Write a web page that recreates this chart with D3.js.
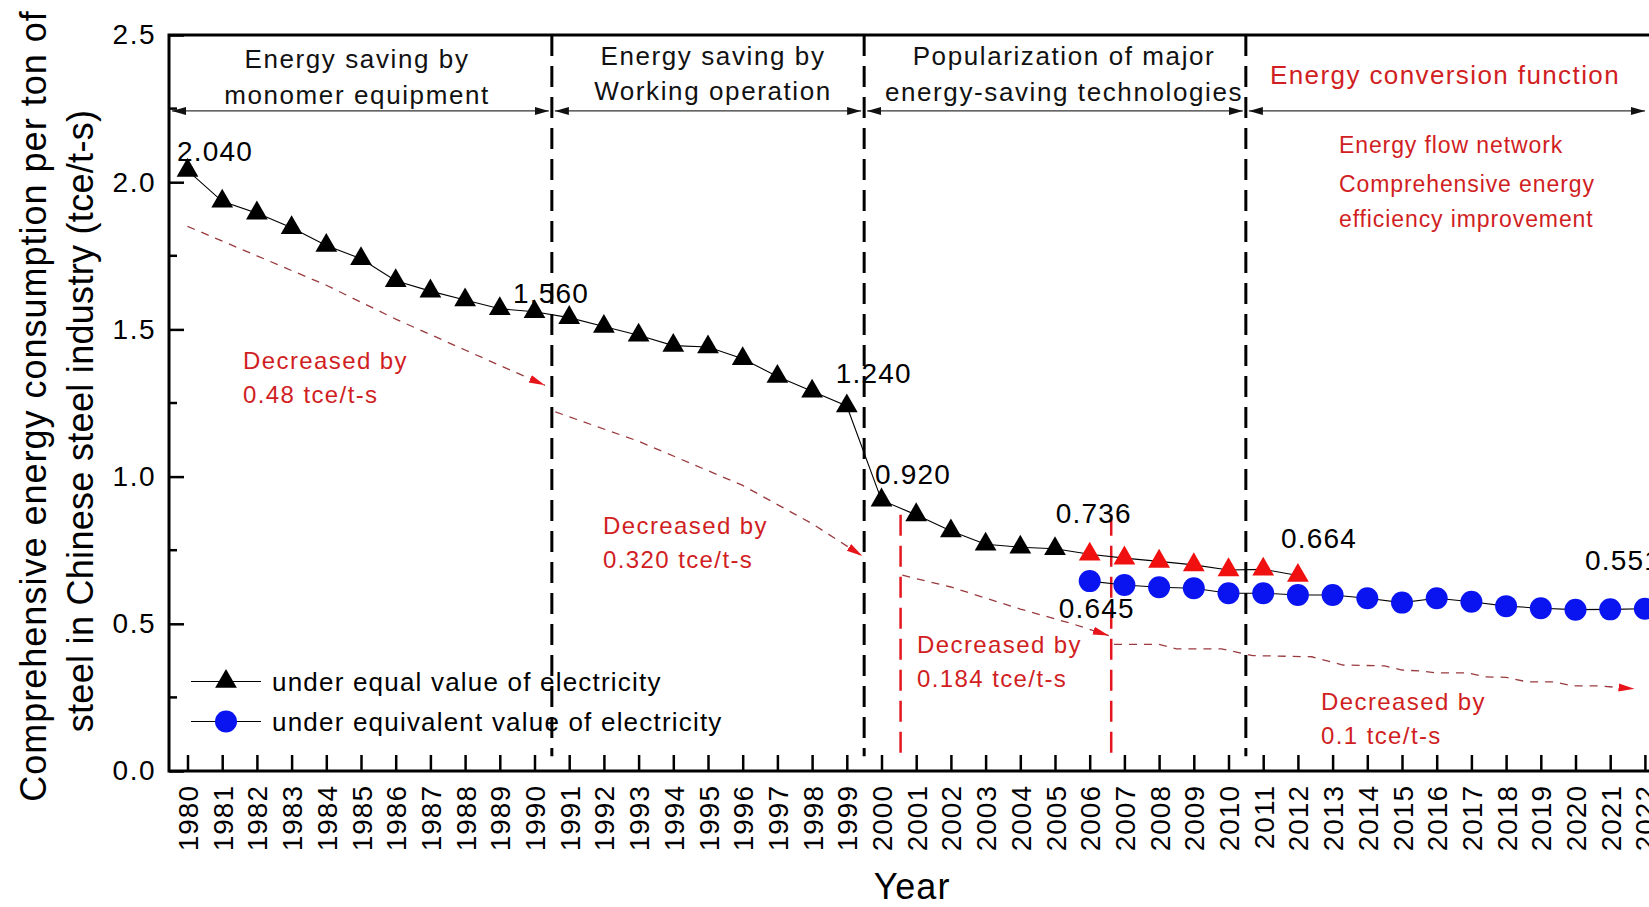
<!DOCTYPE html>
<html lang="en">
<head>
<meta charset="UTF-8" />
<title>Energy consumption per ton of steel</title>
<script src="https://cdn.jsdelivr.net/npm/d3@7"></script>
<style>
  body { margin: 0; background: #fff; }
  svg text { font-family: "Liberation Sans", Arial, sans-serif; }
</style>
</head>
<body>
<svg id="chart" width="1649" height="907"></svg>
<script>
// under equal value of electricity, black part
const equalYears = [1980, 1981, 1982, 1983, 1984, 1985, 1986, 1987, 1988, 1989, 1990,
  1991, 1992, 1993, 1994, 1995, 1996, 1997, 1998, 1999, 2000, 2001, 2002, 2003, 2004, 2005];
const equalValues = [2.040, 1.935, 1.895, 1.845, 1.785, 1.740, 1.665, 1.630, 1.600, 1.570, 1.560,
  1.540, 1.510, 1.480, 1.445, 1.440, 1.400, 1.340, 1.290, 1.240, 0.920, 0.870, 0.815, 0.770, 0.760, 0.755];
// under equal value of electricity, red part
const equalRedYears = [2006, 2007, 2008, 2009, 2010, 2011, 2012];
const equalRedValues = [0.736, 0.723, 0.712, 0.700, 0.683, 0.685, 0.664];
// under equivalent value of electricity
const equivYears = [2006, 2007, 2008, 2009, 2010, 2011, 2012, 2013, 2014,
  2015, 2016, 2017, 2018, 2019, 2020, 2021, 2022];
const equivValues = [0.645, 0.632, 0.624, 0.621, 0.604, 0.604, 0.598, 0.598, 0.587,
  0.572, 0.587, 0.575, 0.560, 0.553, 0.548, 0.549, 0.551];

const tickYears = d3.range(1980, 2023);
const yTicks = [0, 0.5, 1.0, 1.5, 2.0, 2.5];
const yMinorTicks = [0.25, 0.75, 1.25, 1.75, 2.25];

const phaseBounds = [1990.5, 1999.5, 2010.5];
const redBounds = [2000.55, 2006.62];

const phaseNames = [
  ["Energy saving by", "monomer equipment"],
  ["Energy saving by", "Working operation"],
  ["Popularization of major", "energy-saving technologies"]
];
const phase4Name = "Energy conversion function";
const phase4Notes = ["Energy flow network", "Comprehensive energy", "efficiency improvement"];

const valueLabels = [
  { year: 1980, value: 2.040, text: "2.040" },
  { year: 1990, value: 1.560, text: "1.560" },
  { year: 1999, value: 1.240, text: "1.240" },
  { year: 2000, value: 0.920, text: "0.920" },
  { year: 2006, value: 0.736, text: "0.736" },
  { year: 2006, value: 0.645, text: "0.645" },
  { year: 2012, value: 0.664, text: "0.664" },
  { year: 2022, value: 0.551, text: "0.551" }
];

// dashed red trend arrows
const trend1 = [[1980, 1.85], [1982, 1.75], [1984, 1.65], [1986, 1.535], [1988, 1.43], [1990.3, 1.31]];
const trend2 = [[1990.6, 1.22], [1993, 1.12], [1996, 0.97], [1998, 0.84], [1999.45, 0.73]];
const trend3 = [[2000.6, 0.665], [2002, 0.625], [2004, 0.55], [2005.5, 0.50], [2006.55, 0.46]];
const trend4 = [[2006.7, 0.430], [2008.0, 0.430], [2008.5, 0.415], [2009.8, 0.415], [2010.7, 0.392],
  [2012.4, 0.388], [2013.3, 0.360], [2014.5, 0.357], [2015.0, 0.343], [2015.5, 0.340],
  [2016.0, 0.333], [2016.9, 0.333], [2017.4, 0.320], [2018.0, 0.318], [2018.6, 0.303],
  [2019.4, 0.303], [2019.9, 0.289], [2020.7, 0.289], [2021.7, 0.279]];
const trendTexts = [
  ["Decreased by", "0.48 tce/t-s"],
  ["Decreased by", "0.320 tce/t-s"],
  ["Decreased by", "0.184 tce/t-s"],
  ["Decreased by", "0.1 tce/t-s"]
];

const legendNames = ["under equal value of electricity", "under equivalent value of electricity"];

// ---------------------------------------------------------------
const svg = d3.select("#chart");
const plotLeft = 169, plotRight = 1680;

const x = d3.scaleLinear().domain([1980, 2022]).range([187.5, 1644.9]);
const y = d3.scaleLinear().domain([0, 2.5]).range([771, 35]);

const RED_TXT = "#d01e23";

const defs = svg.append("defs");
defs.append("marker").attr("id", "arrBlack")
  .attr("viewBox", "0 0 14 10").attr("refX", 14).attr("refY", 5)
  .attr("markerWidth", 14).attr("markerHeight", 10)
  .attr("markerUnits", "userSpaceOnUse").attr("orient", "auto-start-reverse")
  .append("path").attr("d", "M0,1 L14,5 L0,9 Z").attr("fill", "#111");
defs.append("marker").attr("id", "arrRed")
  .attr("viewBox", "0 0 16 10").attr("refX", 16).attr("refY", 5)
  .attr("markerWidth", 16).attr("markerHeight", 10)
  .attr("markerUnits", "userSpaceOnUse").attr("orient", "auto")
  .append("path").attr("d", "M0,1 L16,5 L0,9 Z").attr("fill", "#e8141c");

// axes
const xAxis = d3.axisBottom(x).tickValues(tickYears).tickSize(-16).tickSizeOuter(0).tickFormat(d3.format("d"));
const gx = svg.append("g").attr("transform", `translate(0,${y(0)})`).call(xAxis);
gx.select(".domain").remove();
gx.selectAll(".tick line").attr("stroke", "#000").attr("stroke-width", 2.5);
gx.selectAll(".tick text")
  .attr("transform", "rotate(-90)")
  .attr("text-anchor", "end")
  .attr("x", -14).attr("y", 0).attr("dy", "0.36em")
  .attr("font-size", 28).attr("letter-spacing", 1).attr("fill", "#000");

const yAxis = d3.axisLeft(y).tickValues(yTicks).tickSize(-15).tickSizeOuter(0).tickFormat(d3.format(".1f"));
const gy = svg.append("g").attr("transform", `translate(${plotLeft},0)`).call(yAxis);
gy.select(".domain").remove();
gy.selectAll(".tick line").attr("stroke", "#000").attr("stroke-width", 2.5);
gy.selectAll(".tick text").attr("x", -13).attr("font-size", 28).attr("letter-spacing", 1.5).attr("fill", "#000");

svg.append("g").selectAll("line").data(yMinorTicks).join("line")
  .attr("x1", plotLeft).attr("x2", plotLeft + 8)
  .attr("y1", d => y(d)).attr("y2", d => y(d))
  .attr("stroke", "#000").attr("stroke-width", 2.5);

// frame
svg.append("path")
  .attr("d", `M${plotRight},${y(2.5)} H${plotLeft} V${y(0)} H${plotRight}`)
  .attr("fill", "none").attr("stroke", "#000").attr("stroke-width", 3);

// axis titles
const yTitle = svg.append("g");
yTitle.append("text").attr("transform", "translate(46,406) rotate(-90)")
  .attr("text-anchor", "middle").attr("font-size", 36).attr("letter-spacing", 1)
  .text("Comprehensive energy consumption per ton of");
yTitle.append("text").attr("transform", "translate(93,421) rotate(-90)")
  .attr("text-anchor", "middle").attr("font-size", 36).attr("letter-spacing", 0.3)
  .text("steel in Chinese steel industry (tce/t-s)");
svg.append("text").attr("x", 912).attr("y", 899).attr("text-anchor", "middle")
  .attr("font-size", 36).attr("letter-spacing", 1).text("Year");

// phase separators
svg.append("g").selectAll("line").data(phaseBounds).join("line")
  .attr("x1", d => x(d)).attr("x2", d => x(d))
  .attr("y1", y(2.5)).attr("y2", y(0.05))
  .attr("stroke", "#000").attr("stroke-width", 3).attr("stroke-dasharray", "21,10");
svg.append("g").selectAll("line").data(redBounds).join("line")
  .attr("x1", d => x(d)).attr("x2", d => x(d))
  .attr("y1", y(0.87)).attr("y2", y(0.05))
  .attr("stroke", "#e3161e").attr("stroke-width", 2.5).attr("stroke-dasharray", "21,10");

// double arrows for the phases
const arrowY = y(2.242);
const spans = [[plotLeft, x(phaseBounds[0])], [x(phaseBounds[0]), x(phaseBounds[1])],
  [x(phaseBounds[1]), x(phaseBounds[2])], [x(phaseBounds[2]), 1648]];
svg.append("g").selectAll("line").data(spans).join("line")
  .attr("x1", d => d[0] + 3).attr("x2", d => d[1] - 3)
  .attr("y1", arrowY).attr("y2", arrowY)
  .attr("stroke", "#333").attr("stroke-width", 1.3)
  .attr("marker-start", "url(#arrBlack)").attr("marker-end", "url(#arrBlack)");

// phase names
const phaseCx = [357, 713, 1064];
const phaseBase = [[68, 104], [65, 100], [65, 101]];
phaseNames.forEach((lines, i) => {
  lines.forEach((t, j) => {
    svg.append("text").attr("x", phaseCx[i]).attr("y", phaseBase[i][j])
      .attr("text-anchor", "middle").attr("font-size", 26).attr("letter-spacing", 1.6)
      .attr("fill", "#111").text(t);
  });
});
svg.append("text").attr("x", 1270).attr("y", 84).attr("font-size", 26).attr("letter-spacing", 1.4)
  .attr("fill", RED_TXT).text(phase4Name);
phase4Notes.forEach((t, j) => {
  svg.append("text").attr("x", 1339).attr("y", [153, 192, 227][j])
    .attr("font-size", 23).attr("letter-spacing", 0.9).attr("fill", RED_TXT).text(t);
});

// red trend arrows
const trendLine = d3.line().x(d => x(d[0])).y(d => y(d[1]));
svg.append("g").selectAll("path").data([trend1, trend2, trend3, trend4]).join("path")
  .attr("d", trendLine)
  .attr("fill", "none").attr("stroke", "#9a3a3e").attr("stroke-width", 1.3)
  .attr("stroke-dasharray", "8,7").attr("marker-end", "url(#arrRed)");

const trendTextPos = [[243, 369], [603, 534], [917, 653], [1321, 710]];
trendTexts.forEach((lines, i) => {
  lines.forEach((t, j) => {
    svg.append("text").attr("x", trendTextPos[i][0]).attr("y", trendTextPos[i][1] + j * 34)
      .attr("font-size", 24).attr("letter-spacing", 1.4).attr("fill", RED_TXT).text(t);
  });
});

// series
const line = d3.line().x(d => x(d[0])).y(d => y(d[1]));
const triData = equalYears.map((yr, i) => [yr, equalValues[i]]);
const triRedData = equalRedYears.map((yr, i) => [yr, equalRedValues[i]]);
const dotData = equivYears.map((yr, i) => [yr, equivValues[i]]);

svg.append("path").datum(triData.concat(triRedData)).attr("d", line)
  .attr("fill", "none").attr("stroke", "#000").attr("stroke-width", 1.1);
svg.append("path").datum(dotData).attr("d", line)
  .attr("fill", "none").attr("stroke", "#000").attr("stroke-width", 1.1);

const tri = d3.symbol().type(d3.symbolTriangle).size(205);
svg.append("g").selectAll("path").data(triData).join("path")
  .attr("d", tri).attr("transform", d => `translate(${x(d[0])},${y(d[1])})`)
  .attr("fill", "#000");
svg.append("g").selectAll("path").data(triRedData).join("path")
  .attr("d", tri).attr("transform", d => `translate(${x(d[0])},${y(d[1])})`)
  .attr("fill", "#f01010");
svg.append("g").selectAll("circle").data(dotData).join("circle")
  .attr("cx", d => x(d[0])).attr("cy", d => y(d[1])).attr("r", 11)
  .attr("fill", "#0a14f0");

// value labels
const labelNudge = [[-10.5, -9], [-21.5, -9], [-11, -23], [-6.5, -16], [-34, -31], [-31, 37], [-17, -27.5], [-60, -39]];
svg.append("g").selectAll("text").data(valueLabels).join("text")
  .attr("x", (d, i) => x(d.year) + labelNudge[i][0])
  .attr("y", (d, i) => y(d.value) + labelNudge[i][1])
  .attr("font-size", 28).attr("letter-spacing", 1.2).attr("fill", "#000")
  .text(d => d.text);

// legend
const legend = svg.append("g");
legendNames.forEach((name, i) => {
  const ly = [681.5, 721.5][i];
  legend.append("line").attr("x1", 191).attr("x2", 261).attr("y1", ly).attr("y2", ly)
    .attr("stroke", "#000").attr("stroke-width", 1.1);
  if (i === 0) {
    legend.append("path").attr("d", tri).attr("transform", `translate(226,${ly})`).attr("fill", "#000");
  } else {
    legend.append("circle").attr("cx", 226).attr("cy", ly).attr("r", 11).attr("fill", "#0a14f0");
  }
  legend.append("text").attr("x", 272).attr("y", ly + 9).attr("font-size", 26)
    .attr("letter-spacing", 1.2).attr("fill", "#000").text(name);
});
</script>
</body>
</html>
